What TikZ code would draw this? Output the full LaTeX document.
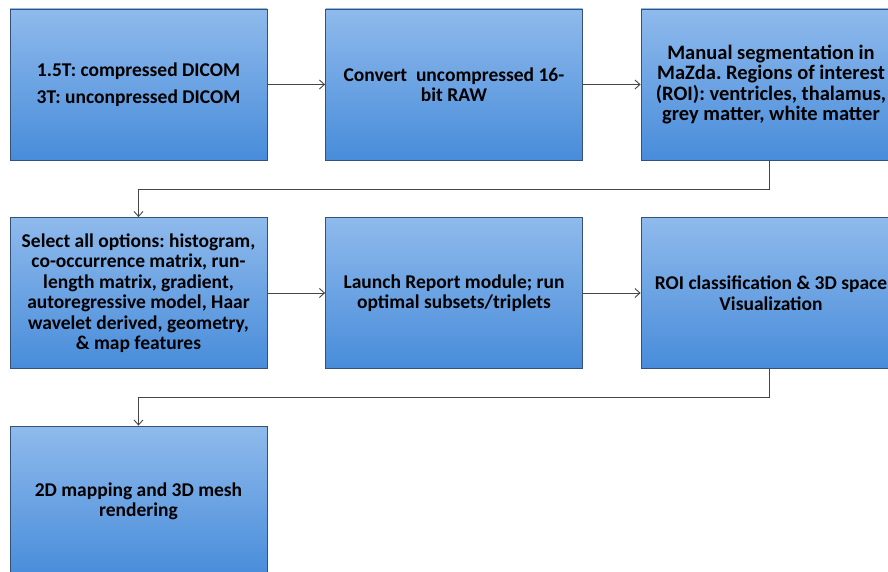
\documentclass[tikz,border=0pt]{standalone}
\usepackage{fontspec}
\setmainfont{Carlito}
\usetikzlibrary{arrows.meta,calc}
\definecolor{boxtop}{RGB}{143,186,236}
\definecolor{boxbot}{RGB}{72,140,218}
\definecolor{boxedge}{RGB}{52,82,120}
\definecolor{linkgray}{RGB}{70,70,70}
\tikzset{
  stepbox/.style={draw=boxedge, line width=0.8pt, top color=boxtop, bottom color=boxbot,
    minimum width=257pt, minimum height=151pt, inner sep=0pt, align=center,
    font=\frenchspacing\bfseries\fontsize{19.5pt}{20.5pt}\selectfont, text=black},
  link/.style={draw=linkgray, line width=0.9pt, -{Straight Barb[length=5pt,width=9pt]}}
}
\begin{document}
\begin{tikzpicture}[x=1pt,y=-1pt]
\useasboundingbox (0,0) rectangle (888,572);
\clip (0,0) rectangle (888,572);
\fill[white] (0,0) rectangle (888,572);

% first row
\node[stepbox] (dicom) at (138.5,84.5) {1.5T: compressed DICOM\\[7pt]3T: unconpressed DICOM};
\node[stepbox] (raw) at (454,84.5) {Convert~ uncompressed 16-\\bit RAW};
\node[stepbox, font=\frenchspacing\bfseries\fontsize{20.5pt}{20.5pt}\selectfont] (seg) at (769.5,84.5)
  {\hspace*{3pt}Manual segmentation in\\\hspace*{3pt}MaZda. Regions of interest\\\hspace*{3pt}(ROI): ventricles, thalamus,\\\hspace*{3pt}grey matter, white matter};

% second row
\node[stepbox] (opts) at (138.5,293) {Select all options: histogram,\\co-occurrence matrix, run-\\length matrix, gradient,\\autoregressive model, Haar\\wavelet derived, geometry,\\\& map features};
\node[stepbox] (report) at (454,293) {Launch Report module; run\\optimal subsets/triplets};
\node[stepbox] (roi) at (769.5,293) {\hspace*{3pt}ROI classification \& 3D space\\\hspace*{3pt}Visualization};

% third row
\node[stepbox] (mesh) at (138.5,501.5) {2D mapping and 3D mesh\\rendering};

% connectors
\draw[link] (dicom) -- (raw);
\draw[link] (raw) -- (seg);
\draw[link] (seg.south) -- ++(0,29) -| (opts.north);
\draw[link] (opts) -- (report);
\draw[link] (report) -- (roi);
\draw[link] (roi.south) -- ++(0,29) -| (mesh.north);
\end{tikzpicture}
\end{document}
